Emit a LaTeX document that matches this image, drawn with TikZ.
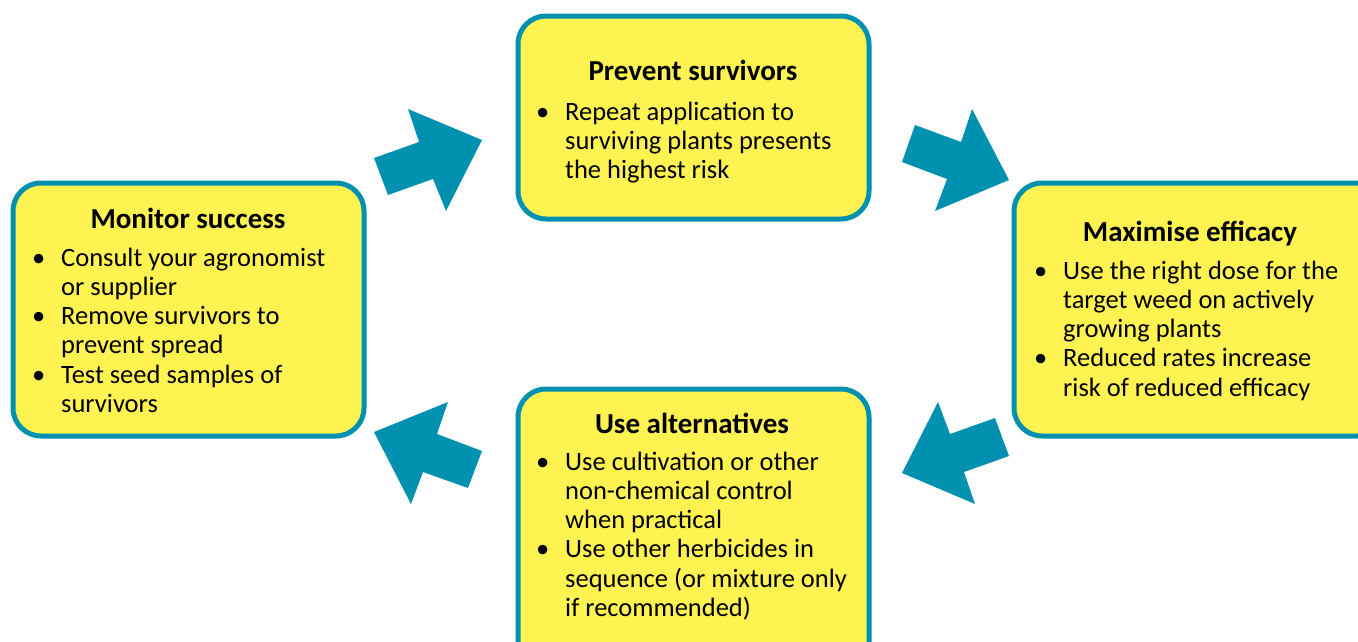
\documentclass[tikz,border=0pt]{standalone}
\usepackage{fontspec}
\setmainfont{Carlito}
\definecolor{teal1}{HTML}{0090B0}
\definecolor{yel}{HTML}{FFF352}
\newcommand\bul{\makebox[29pt][l]{\textbullet}}
\newcommand\cnt{\hspace*{29pt}}
\tikzset{
  box/.style={draw=teal1, fill=yel, line width=5pt, rounded corners=28pt},
  arr/.style={fill=teal1, draw=none},
  ttl/.style={anchor=base, inner sep=0pt, font=\fontsize{29}{30}\selectfont\bfseries},
  body/.style={anchor=base west, inner sep=0pt, font=\fontsize{26.5}{29.3}\selectfont}
}
\begin{document}
\begin{tikzpicture}[x=1pt,y=-1pt]
\useasboundingbox (0,0) rectangle (1358,641);
\clip (0,0) rectangle (1358,641);
% boxes
\draw[box] (13,183) rectangle (364,436);
\draw[box] (518,16) rectangle (869,219);
\draw[box] (1014,183) rectangle (1385,436);
\draw[box] (518,389) rectangle (869,670);
% arrows
\fill[arr] (374,158) -- (419,142) -- (408,109) -- (482,140) -- (446,211) -- (433,179) -- (388,195) -- cycle;
\fill[arr] (915,125) -- (961,142) -- (972,109) -- (1009,180) -- (935,211) -- (947,179) -- (902,162) -- cycle;
\fill[arr] (938,402) -- (950,434) -- (995,418) -- (1009,456) -- (964,472) -- (975,504) -- (902,473) -- cycle;
\fill[arr] (448,402) -- (437,434) -- (482,451) -- (468,488) -- (423,472) -- (411,504) -- (374,432) -- cycle;
% Monitor success
\node[ttl] (t1) at (188,228) {Monitor success};
\node[body] (b1) at (32,266) {\begin{tabular}[t]{@{}l@{}}
\bul Consult your agronomist\\
\cnt or supplier\\
\bul Remove survivors to\\
\cnt prevent spread\\
\bul Test seed samples of\\
\cnt survivors
\end{tabular}};
% Prevent survivors
\node[ttl] (t2) at (693,80) {Prevent survivors};
\node[body] (b2) at (536,120) {\begin{tabular}[t]{@{}l@{}}
\bul Repeat application to\\
\cnt surviving plants presents\\
\cnt the highest risk
\end{tabular}};
% Maximise efficacy
\node[ttl] (t3) at (1190,241) {Maximise efficacy};
\node[body] (b3) at (1034,279) {\begin{tabular}[t]{@{}l@{}}
\bul Use the right dose for the\\
\cnt target weed on actively\\
\cnt growing plants\\
\bul Reduced rates increase\\
\cnt risk of reduced efficacy
\end{tabular}};
% Use alternatives
\node[ttl] (t4) at (692,433) {Use alternatives};
\node[body] (b4) at (536,470) {\begin{tabular}[t]{@{}l@{}}
\bul Use cultivation or other\\
\cnt non-chemical control\\
\cnt when practical\\
\bul Use other herbicides in\\
\cnt sequence (or mixture only\\
\cnt if recommended)
\end{tabular}};
\end{tikzpicture}
\end{document}
